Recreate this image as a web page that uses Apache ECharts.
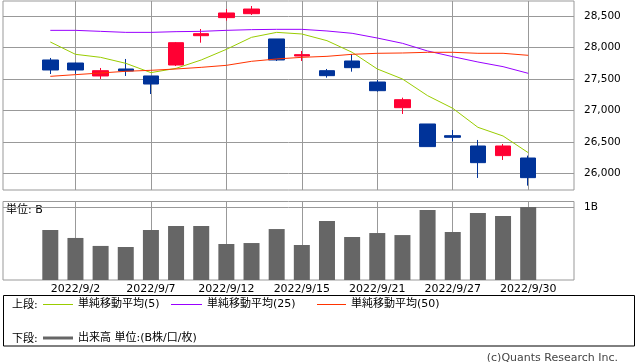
<!DOCTYPE html>
<html><head><meta charset="utf-8">
<script src="https://cdn.jsdelivr.net/npm/echarts@6/dist/echarts.min.js"></script>
<style>html,body{margin:0;padding:0;background:#fff}#c{width:638px;height:362px}</style>
</head><body><div id="c"></div>
<script>
const dates = ['2022/9/1','2022/9/2','2022/9/5','2022/9/6','2022/9/7','2022/9/8','2022/9/9','2022/9/12','2022/9/13','2022/9/14','2022/9/15','2022/9/16','2022/9/20','2022/9/21','2022/9/22','2022/9/26','2022/9/27','2022/9/28','2022/9/29','2022/9/30'];
const opens  = [27801,27753,27547,27658,27547,27721,28187,28474,28537,28135,27864,27631,27785,27451,27043,26784,26598,26434,26281,26243];
const closes = [27642,27642,27631,27626,27419,28076,28219,28548,28611,27801,27886,27552,27679,27313,27170,26424,26572,26169,26434,25931];
const lows   = [27578,27580,27499,27547,27260,27705,28076,28426,28516,27785,27785,27520,27615,27298,26943,26424,26508,25926,26212,25804];
const highs  = [27833,27760,27674,27817,27547,28087,28293,28611,28659,28135,27944,27658,27896,27483,27202,26784,26688,26530,26466,26281];
const ma5  = [28087,27891,27843,27748,27600,27668,27801,27970,28161,28240,28214,28108,27923,27658,27499,27234,27033,26731,26593,26328];
const ma25 = [28272,28272,28256,28240,28240,28251,28256,28272,28283,28288,28288,28262,28225,28150,28066,27944,27854,27769,27695,27589];
const ma50 = [27541,27568,27594,27621,27637,27658,27684,27716,27780,27817,27843,27859,27891,27907,27912,27923,27923,27907,27907,27875];
const volume = [0.69,0.58,0.47,0.455,0.69,0.745,0.745,0.497,0.51,0.703,0.483,0.814,0.593,0.648,0.62,0.966,0.662,0.924,0.883,1.007];
const priceTicks = [26000,26500,27000,27500,28000,28500];
const volumeTicks = [1];

const FONT = "'DejaVu Sans','Noto Sans CJK JP',sans-serif";
const GRID = '#999999';
const showIdx = (i) => i % 3 === 1;

const chart = echarts.init(document.getElementById('c'), null, {renderer: 'canvas'});
const option = {
  animation: false,
  textStyle: {fontFamily: FONT},
  grid: [
    {left: 3, top: 1, width: 571, height: 189, show: true, borderColor: GRID, borderWidth: 1},
    {left: 50.3, top: 1, width: 477.9, height: 189},
    {left: 3, top: 201.5, width: 571, height: 78.5, show: true, borderColor: GRID, borderWidth: 1},
    {left: 50.3, top: 201.5, width: 477.9, height: 78.5}
  ],
  xAxis: [
    {gridIndex: 0, type: 'value', min: 0, max: 1, show: false},
    {gridIndex: 1, type: 'category', data: dates, boundaryGap: false,
      axisLine: {show: false}, axisTick: {show: false}, axisLabel: {show: false},
      splitLine: {show: true, interval: (i) => showIdx(i), lineStyle: {color: GRID, width: 1}}},
    {gridIndex: 2, type: 'value', min: 0, max: 1, show: false},
    {gridIndex: 3, type: 'category', data: dates, boundaryGap: false,
      axisLine: {show: false}, axisTick: {show: false},
      axisLabel: {show: true, interval: (i) => showIdx(i), margin: 4, fontSize: 11, color: '#000', fontFamily: FONT},
      splitLine: {show: true, interval: (i) => showIdx(i), lineStyle: {color: GRID, width: 1}}}
  ],
  yAxis: [
    {gridIndex: 0, type: 'value', position: 'right', min: 25734.6, max: 28738.4,
      axisLine: {show: false},
      axisTick: {show: true, length: 4, customValues: priceTicks, lineStyle: {color: GRID}},
      axisLabel: {show: true, customValues: priceTicks, margin: 10, fontSize: 10.5, color: '#000', fontFamily: FONT,
        formatter: (v) => String(Math.round(v)).replace(/\B(?=(\d{3})+(?!\d))/g, ',')},
      splitLine: {show: true, lineStyle: {color: GRID, width: 1}}},
    {gridIndex: 1, type: 'value', min: 25734.6, max: 28738.4, show: false, splitLine: {show: false}},
    {gridIndex: 2, type: 'value', position: 'right', min: 0, max: 1.083,
      axisLine: {show: false},
      axisTick: {show: true, length: 4, customValues: volumeTicks, lineStyle: {color: GRID}},
      axisLabel: {show: true, customValues: volumeTicks, margin: 10, fontSize: 10.5, color: '#000', fontFamily: FONT,
        formatter: (v) => v + 'B'},
      splitLine: {show: true, lineStyle: {color: GRID, width: 1}}},
    {gridIndex: 3, type: 'value', min: 0, max: 1.083, show: false, splitLine: {show: false}}
  ],
  legend: [
    {left: 43, top: 299, data: ['単純移動平均(5)'], icon: 'rect', itemWidth: 30, itemHeight: 1, padding: 0,
      textStyle: {fontSize: 11, color: '#000', fontFamily: FONT}},
    {left: 171, top: 299, data: ['単純移動平均(25)'], icon: 'rect', itemWidth: 31, itemHeight: 1, padding: 0,
      textStyle: {fontSize: 11, color: '#000', fontFamily: FONT}},
    {left: 317, top: 299, data: ['単純移動平均(50)'], icon: 'rect', itemWidth: 29, itemHeight: 1, padding: 0,
      textStyle: {fontSize: 11, color: '#000', fontFamily: FONT}},
    {left: 43, top: 332.5, data: ['出来高 単位:(B株/口/枚)'], icon: 'rect', itemWidth: 30, itemHeight: 3, padding: 0,
      textStyle: {fontSize: 11, color: '#000', fontFamily: FONT}}
  ],
  graphic: [
    {type: 'rect', shape: {x: 3.5, y: 295.5, width: 631, height: 50.5}, style: {fill: 'none', stroke: '#000', lineWidth: 1}, silent: true},
    {type: 'text', x: 12, y: 305.5, style: {text: '上段:', font: '11px ' + FONT, fill: '#000', textVerticalAlign: 'middle'}},
    {type: 'text', x: 12, y: 339, style: {text: '下段:', font: '11px ' + FONT, fill: '#000', textVerticalAlign: 'middle'}},
    {type: 'text', x: 6, y: 210, style: {text: '単位: B', font: '11px ' + FONT, fill: '#000', textVerticalAlign: 'middle'}},
    {type: 'text', x: 618, y: 358.5, style: {text: '(c)Quants Research Inc.', font: '11px ' + FONT, fill: '#444', textAlign: 'right', textVerticalAlign: 'middle'}}
  ],
  series: [
    {type: 'candlestick', name: 'price', xAxisIndex: 1, yAxisIndex: 1, barWidth: 16, clip: false,
      data: dates.map((d, i) => [opens[i], closes[i], lows[i], highs[i]]),
      itemStyle: {color: '#FF0033', color0: '#003399', borderColor: '#FF0033', borderColor0: '#003399', borderWidth: 1}},
    {type: 'line', name: '単純移動平均(5)', xAxisIndex: 1, yAxisIndex: 1, data: ma5, showSymbol: false, symbol: 'none', z: 5,
      color: '#99CC00', lineStyle: {color: '#99CC00', width: 1}},
    {type: 'line', name: '単純移動平均(25)', xAxisIndex: 1, yAxisIndex: 1, data: ma25, showSymbol: false, symbol: 'none', z: 5,
      color: '#9900FF', lineStyle: {color: '#9900FF', width: 1}},
    {type: 'line', name: '単純移動平均(50)', xAxisIndex: 1, yAxisIndex: 1, data: ma50, showSymbol: false, symbol: 'none', z: 5,
      color: '#FF3300', lineStyle: {color: '#FF3300', width: 1}},
    {type: 'bar', name: '出来高 単位:(B株/口/枚)', xAxisIndex: 3, yAxisIndex: 3, data: volume, barWidth: 16, clip: false,
      color: '#666666', itemStyle: {color: '#666666'}}
  ]
};
chart.setOption(option);
</script>
</body></html>
